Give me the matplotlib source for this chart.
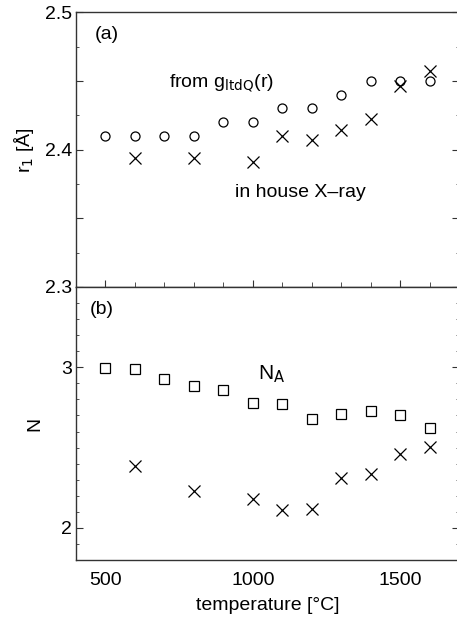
import matplotlib
matplotlib.use('Agg')
import matplotlib.pyplot as plt
from matplotlib.ticker import MultipleLocator, FixedLocator
import numpy as np

plt.rcParams['font.family'] = ['Liberation Sans', 'DejaVu Sans']
plt.rcParams['font.size'] = 14

temperature = [500, 600, 700, 800, 900, 1000, 1100, 1200, 1300, 1400, 1500, 1600]
r1_gltdq = [2.41, 2.41, 2.41, 2.41, 2.42, 2.42, 2.43, 2.43, 2.44, 2.45, 2.45, 2.45]

temperature_xray = [600, 800, 1000, 1100, 1200, 1300, 1400, 1500, 1600]
r1_xray = [2.394, 2.394, 2.391, 2.410, 2.407, 2.414, 2.422, 2.446, 2.457]

n_a = [2.996, 2.99, 2.925, 2.884, 2.86, 2.78, 2.772, 2.677, 2.712, 2.727, 2.70, 2.621]
n_xray = [2.383, 2.228, 2.182, 2.110, 2.118, 2.309, 2.335, 2.457, 2.501]

edge = '#333333'

fig = plt.figure(figsize=(4.57, 6.18), dpi=100)
ax1 = fig.add_axes([0.1663, 0.5356, 0.838, 0.4445])
ax2 = fig.add_axes([0.1663, 0.0939, 0.838, 0.4417], sharex=ax1)

# (a) nearest neighbour distance
ax1.plot(temperature, r1_gltdq, 'o', mfc='none', mec='black', ms=6.5, mew=0.9)
ax1.plot(temperature_xray, r1_xray, 'x', color='black', ms=8, mew=0.9)
ax1.set_ylim(2.3, 2.5)
ax1.set_xlim(400, 1700)
ax1.yaxis.set_major_locator(FixedLocator([2.3, 2.35, 2.4, 2.45, 2.5]))
ax1.set_yticklabels(['2.3', '', '2.4', '', '2.5'])
ax1.yaxis.set_minor_locator(MultipleLocator(0.025))
ax1.set_ylabel('r$_1$ [Å]', labelpad=6)
ax1.text(0.05, 0.95, '(a)', transform=ax1.transAxes, va='top', ha='left')
ax1.text(895, 2.448, 'from g$_{\\mathrm{ltdQ}}$(r)', ha='center', va='center')
ax1.text(1160, 2.369, 'in house X\u2013ray', ha='center', va='center')

# (b) coordination number
ax2.plot(temperature, n_a, 's', mfc='none', mec='black', ms=6.5, mew=0.9)
ax2.plot(temperature_xray, n_xray, 'x', color='black', ms=8, mew=0.9)
ax2.set_ylim(1.8, 3.5)
ax2.yaxis.set_major_locator(FixedLocator([2, 3]))
ax2.yaxis.set_minor_locator(MultipleLocator(0.1))
ax2.set_ylabel('N', labelpad=13)
ax2.set_xlabel('temperature [°C]', labelpad=6)
ax2.xaxis.set_major_locator(FixedLocator([500, 1000, 1500]))
ax2.text(0.035, 0.95, '(b)', transform=ax2.transAxes, va='top', ha='left')
ax2.text(1063, 2.955, 'N$_\\mathrm{A}$', ha='center', va='center', fontsize=15)

for ax in (ax1, ax2):
    for s in ax.spines.values():
        s.set_color(edge)
        s.set_linewidth(1.0)
    ax.tick_params(axis='y', which='both', direction='in', left=True, right=True, color=edge)
    ax.tick_params(axis='y', which='major', length=5, pad=3)
    ax.tick_params(axis='y', which='minor', length=2.5)

# shared x ticks drawn crossing the boundary between panels
ax1.xaxis.set_major_locator(FixedLocator([500, 1000, 1500]))
ax1.xaxis.set_minor_locator(MultipleLocator(100))
ax1.tick_params(axis='x', which='both', direction='inout', bottom=True, top=False,
                labelbottom=False, color=edge)
ax1.tick_params(axis='x', which='major', length=10)
ax1.tick_params(axis='x', which='minor', length=7)
ax2.tick_params(axis='x', which='both', bottom=False, top=False, labelbottom=True, pad=5)
ax2.xaxis.set_minor_locator(MultipleLocator(100))

fig.savefig('out.png', dpi=100)
